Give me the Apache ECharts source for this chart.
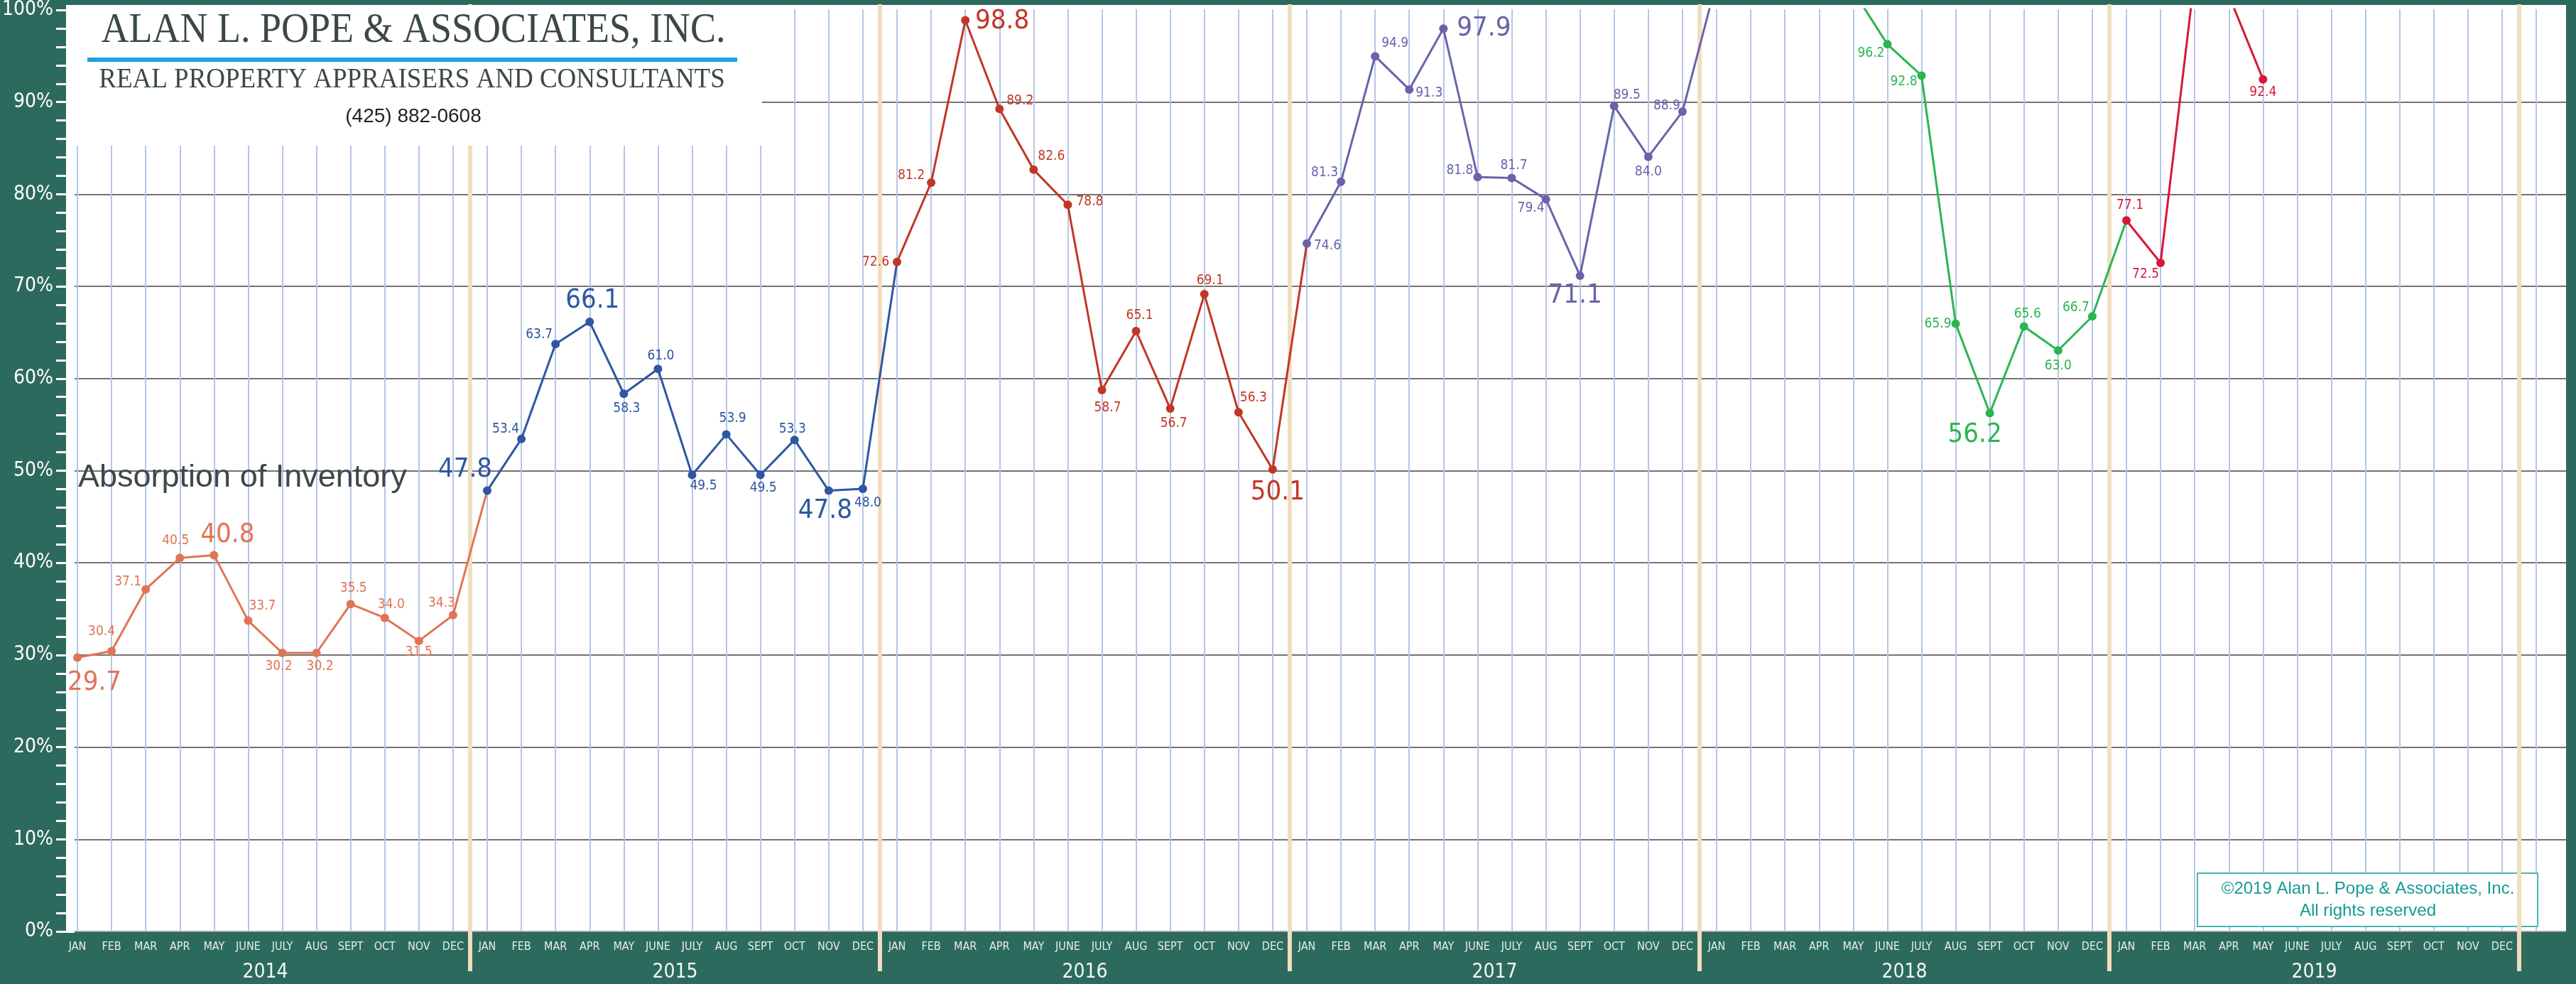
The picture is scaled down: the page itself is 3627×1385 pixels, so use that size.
<!DOCTYPE html>
<html><head><meta charset="utf-8">
<script src="https://cdn.jsdelivr.net/npm/echarts@6/dist/echarts.min.js"></script>
<style>html,body{margin:0;padding:0;background:#2D6A5E}#c{width:3627px;height:1385px}</style>
</head><body><div id="c"></div>
<script>
// ---------- data ----------
const months = ['JAN','FEB','MAR','APR','MAY','JUNE','JULY','AUG','SEPT','OCT','NOV','DEC'];
const years = ['2014','2015','2016','2017','2018','2019'];
const yTickValues = [0,10,20,30,40,50,60,70,80,90,100];
const v2014 = [29.7,30.4,37.1,40.5,40.8,33.7,30.2,30.2,35.5,34.0,31.5,34.3];
const v2015 = [47.8,53.4,63.7,66.1,58.3,61.0,49.5,53.9,49.5,53.3,47.8,48.0];
const v2016 = [72.6,81.2,98.8,89.2,82.6,78.8,58.7,65.1,56.7,69.1,56.3,50.1];
const v2017 = [74.6,81.3,94.9,91.3,97.9,81.8,81.7,79.4,71.1,89.5,84.0,88.9];
const v2018 = [103.0,108.0,112.0,106.0,102.0,96.2,92.8,65.9,56.2,65.6,63.0,66.7];
const v2019 = [77.1,72.5,103.6,101.5,92.4,null,null,null,null,null,null,null];

// ---------- styling (kept apart from data) ----------
const colors = ['#E27456','#2E56A3','#C23626','#6A62AA','#2BB552','#D61838'];
const big2014 = [0,4], big2015 = [0,3,10], big2016 = [2,11], big2017 = [4,8], big2018 = [8], big2019 = [];
const off2014 = [[24,36],[-14,-27],[-25,-10],[-6,-24],[19,-28],[20,-21],[-5,19],[5,19],[4,-22],[9,-19],[0,16],[-16,-17]];
const off2015 = [[-31,-29],[-22,-14],[-23,-13],[4,-30],[4,21],[4,-18],[16,16],[9,-22],[4,19],[-3,-15],[-5,29],[7,20]];
const off2016 = [[-30,0],[-28,-10],[52,2],[29,-11],[25,-19],[31,-4],[8,25],[5,-22],[5,21],[8,-19],[21,-20],[7,32]];
const off2017 = [[29,3],[-23,-13],[28,-18],[28,5],[57,0],[-25,-9],[3,-17],[-21,13],[-7,28],[18,-15],[0,21],[-22,-8]];
const off2018 = [[0,0],[0,0],[0,0],[0,0],[0,0],[-23,13],[-25,9],[-25,0],[-21,31],[5,-17],[0,22],[-23,-12]];
const off2019 = [[5,-21],[-21,16],[0,0],[0,0],[0,18],[0,0],[0,0],[0,0],[0,0],[0,0],[0,0],[0,0]];

const NARROW = '"Liberation Sans Narrow","DejaVu Sans Condensed","Liberation Sans",sans-serif';
const yearVals = [v2014,v2015,v2016,v2017,v2018,v2019];
const yearBig = [big2014,big2015,big2016,big2017,big2018,big2019];
const yearOff = [off2014,off2015,off2016,off2017,off2018,off2019];

const cats = [];
years.forEach(() => months.forEach(m => cats.push(m)));
cats.push('');

const series = [];
yearVals.forEach((vals, k) => {
  const data = [];
  vals.forEach((v, i) => {
    if (v == null) return;
    const big = yearBig[k].indexOf(i) >= 0;
    data.push({
      value: [12 * k + i, v],
      label: { offset: yearOff[k][i], fontSize: big ? 38 : 19 }
    });
  });
  const next = yearVals[k + 1];
  if (next && next[0] != null) {
    data.push({ value: [12 * (k + 1), next[0]], symbol: 'none', label: { show: false } });
  }
  series.push({
    type: 'line', name: years[k], xAxisIndex: 1, yAxisIndex: 1,
    data, symbol: 'circle', symbolSize: 12, clip: true, z: 3,
    itemStyle: { color: colors[k] },
    lineStyle: { color: colors[k], width: 3 },
    label: {
      show: true, position: 'inside', align: 'center', verticalAlign: 'middle',
      color: colors[k], fontFamily: NARROW,
      formatter: p => p.value[1].toFixed(1)
    }
  });
});

// year separators (tan bars) between DEC and JAN
series.push({
  type: 'custom', xAxisIndex: 2, yAxisIndex: 1, z: 1, silent: true,
  data: years.map((y, i) => [12 * i + 11.5, 0]),
  renderItem: (params, api) => {
    const x = api.coord([api.value(0), 0])[0];
    const yTop = api.coord([0, 100])[1] - 7;
    const yBot = api.coord([0, 0])[1] + 56;
    return { type: 'rect', shape: { x: x - 3, y: yTop, width: 6, height: yBot - yTop }, style: { fill: '#F0DEC0' } };
  }
});
// year labels under each year's months
series.push({
  type: 'custom', xAxisIndex: 2, yAxisIndex: 1, z: 1, silent: true,
  data: years.map((y, i) => [12 * i + 5.5, 0]),
  renderItem: (params, api) => {
    const p = api.coord([api.value(0), 0]);
    return { type: 'text', x: p[0], y: p[1] + 58,
      style: { text: years[params.dataIndex], fill: '#F2F6F4', font: '28px ' + NARROW, align: 'center', verticalAlign: 'middle' } };
  }
});

const gridTop = 13, gridBottom = 74;
const option = {
  backgroundColor: '#2D6A5E',
  animation: false,
  grid: [
    { left: 93, right: 14, top: gridTop, bottom: gridBottom },
    { left: 109, right: 56, top: gridTop, bottom: gridBottom }
  ],
  xAxis: [
    { type: 'value', gridIndex: 0, min: 0, max: 1, show: false },
    { type: 'category', gridIndex: 1, data: cats, boundaryGap: false,
      axisLine: { show: false }, axisTick: { show: false },
      axisLabel: { interval: 0, color: '#E6EEEA', fontSize: 16, fontFamily: NARROW, margin: 14 },
      splitLine: { show: true, interval: 0, lineStyle: { color: '#B4C6E6', width: 2 } } },
    { type: 'value', gridIndex: 1, min: 0, max: 72, show: false }
  ],
  yAxis: [
    { type: 'value', gridIndex: 0, min: yTickValues[0], max: yTickValues[yTickValues.length - 1], interval: 10,
      axisLine: { show: false },
      axisTick: { show: true, length: 26, lineStyle: { color: '#FFFFFF', width: 3 } },
      minorTick: { show: true, splitNumber: 5, length: 26, lineStyle: { color: '#FFFFFF', width: 3 } },
      axisLabel: { color: '#FFFFFF', fontSize: 28, fontFamily: NARROW, margin: 30, formatter: v => v + '%' },
      splitLine: { show: true, lineStyle: { width: 1.5,
        color: ['#A0A0A0','#454545','#454545','#454545','#454545','#454545','#454545','#454545','#454545','#454545','rgba(0,0,0,0)'] } } },
    { type: 'value', gridIndex: 1, min: 0, max: 100, show: false }
  ],
  graphic: { elements: [
    { type: 'rect', z: -1, shape: { x: 93, y: 7, width: 3520, height: 1304 }, style: { fill: '#FFFFFF' } },
    // copyright box
    { type: 'rect', z: 0.5, shape: { x: 3094, y: 1229, width: 479, height: 75 }, style: { fill: '#FFFFFF', stroke: '#4CB5B2', lineWidth: 2 } },
    { type: 'text', z: 0.6, x: 3334, y: 1251, style: { text: '©2019 Alan L. Pope & Associates, Inc.', fill: '#159B96', font: '24px "Liberation Sans",sans-serif', align: 'center', verticalAlign: 'middle' } },
    { type: 'text', z: 0.6, x: 3334, y: 1282, style: { text: 'All rights reserved', fill: '#159B96', font: '24px "Liberation Sans",sans-serif', align: 'center', verticalAlign: 'middle' } },
    // logo box
    { type: 'rect', z: 10, shape: { x: 95, y: 7, width: 978, height: 198 }, style: { fill: '#FFFFFF' } },
    { type: 'text', z: 11, x: 582, y: 48, scaleY: 1.1, originY: 48, style: { text: 'ALAN L. POPE & ASSOCIATES, INC.', fill: '#3B4848', font: '54px "Liberation Serif",serif', align: 'center', verticalAlign: 'middle' } },
    { type: 'rect', z: 11, shape: { x: 123, y: 81, width: 915, height: 6 }, style: { fill: '#1DA1DC' } },
    { type: 'text', z: 11, x: 580, y: 112, scaleY: 1.1, style: { text: 'REAL PROPERTY APPRAISERS AND CONSULTANTS', fill: '#3B4848', font: '37px "Liberation Serif",serif', align: 'center', verticalAlign: 'middle' } },
    { type: 'text', z: 11, x: 582, y: 164, style: { text: '(425) 882-0608', fill: '#231F20', font: '28px "Liberation Sans",sans-serif', align: 'center', verticalAlign: 'middle' } },
    // chart title
    { type: 'text', z: 11, x: 110, y: 673, style: { text: 'Absorption of Inventory', fill: '#3E4848', font: '45px "Liberation Sans",sans-serif', align: 'left', verticalAlign: 'middle' } }
  ] },
  series
};
const chart = echarts.init(document.getElementById('c'), null, { renderer: 'canvas' });
chart.setOption(option);
</script></body></html>
